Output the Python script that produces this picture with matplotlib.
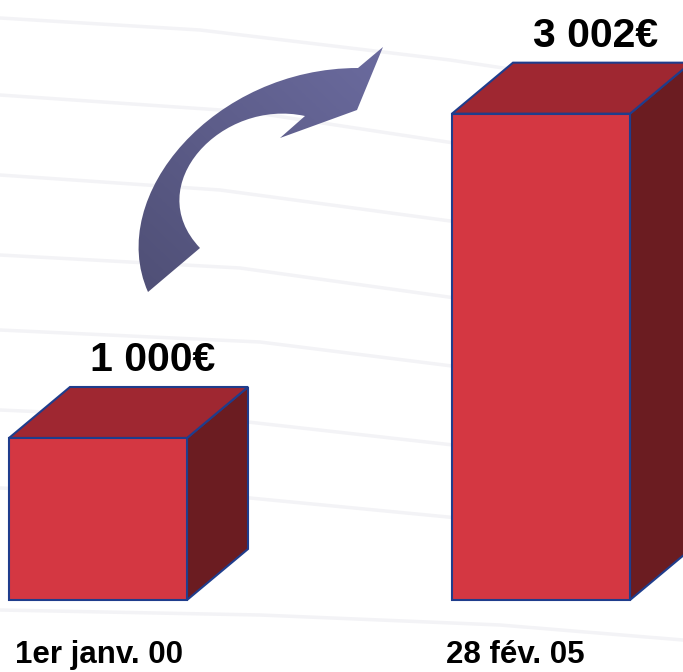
import numpy as np
import matplotlib
matplotlib.use("Agg")
import matplotlib.pyplot as plt
from matplotlib.patches import Rectangle, Polygon, PathPatch
from matplotlib.path import Path
from matplotlib.colors import LinearSegmentedColormap

# données
dates = ["1er janv. 00", "28 fév. 05"]
montants = [1000, 3002]
etiquettes = ["1 000€", "3 002€"]

# style des pavés
FACE = "#d43742"
DESSUS = "#9f2731"
COTE = "#6b1c21"
BORD = "#1f3d8c"

W, H = 683, 672
fig = plt.figure(figsize=(W / 100, H / 100), dpi=100)
fig.patch.set_facecolor("white")

# axe en pixels pour le fond et la flèche
ax_px = fig.add_axes([0, 0, 1, 1], zorder=0)
ax_px.set_xlim(0, W)
ax_px.set_ylim(H, 0)
ax_px.axis("off")

# stries grises très pâles du fond
stries = [
    ([0, 200, 450, 683], [18, 30, 60, 95]),
    ([0, 250, 500, 683], [95, 112, 150, 190]),
    ([0, 220, 480, 683], [175, 190, 225, 262]),
    ([0, 240, 470, 683], [255, 268, 300, 335]),
    ([0, 260, 500, 683], [330, 342, 372, 405]),
    ([0, 230, 480, 683], [410, 420, 448, 478]),
    ([0, 250, 500, 683], [488, 498, 522, 548]),
    ([0, 260, 500, 683], [610, 615, 625, 640]),
]
for xs, ys in stries:
    ax_px.plot(xs, ys, color="#f3f3f6", lw=2.5, solid_capstyle="round", zorder=0)

# flèche courbe
verts = [
    (148, 292),
    (105, 195), (215, 68), (358, 68),
    (383, 47),
    (357, 110),
    (280, 138),
    (305, 116),
    (222, 98), (140, 185), (200, 248),
    (148, 292),
]
codes = [Path.MOVETO,
         Path.CURVE4, Path.CURVE4, Path.CURVE4,
         Path.LINETO, Path.LINETO, Path.LINETO, Path.LINETO,
         Path.CURVE4, Path.CURVE4, Path.CURVE4,
         Path.CLOSEPOLY]
fleche = PathPatch(Path(verts, codes), facecolor="none", edgecolor="none")
ax_px.add_patch(fleche)
gx, gy = np.meshgrid(np.linspace(0, 1, 200), np.linspace(0, 1, 200))
degrade = gx * 0.5 + (1 - gy) * 0.5
cmap = LinearSegmentedColormap.from_list("fl", ["#4e4e74", "#6c6ca0"])
img = ax_px.imshow(degrade, cmap=cmap, extent=[120, 395, 300, 40],
                   origin="upper", aspect="auto", zorder=2)
img.set_clip_path(fleche)

# axe en euros pour les pavés
px_par_euro = 0.162
y_base = 600
ax = fig.add_axes([0, 0, 1, 1], zorder=1)
ax.patch.set_visible(False)
ax.set_xlim(0, W)
ax.set_ylim(-(H - y_base) / px_par_euro, y_base / px_par_euro)
ax.axis("off")

largeur = 178
ecart = 443
dx = 61
dy = 51 / px_par_euro
label_x = [99, 515]

for i, (v, lab, d) in enumerate(zip(montants, etiquettes, dates)):
    x0 = 9 + ecart * i
    face = Rectangle((x0, 0), largeur, v, facecolor=FACE, edgecolor=BORD,
                     lw=1.5, zorder=3)
    dessus = Polygon([(x0, v), (x0 + dx, v + dy), (x0 + largeur + dx, v + dy),
                      (x0 + largeur, v)], closed=True, facecolor=DESSUS,
                     edgecolor=BORD, lw=1.5, zorder=2)
    cote = Polygon([(x0 + largeur, 0), (x0 + largeur + dx, dy),
                    (x0 + largeur + dx, v + dy), (x0 + largeur, v)], closed=True,
                   facecolor=COTE, edgecolor=BORD, lw=1.5, zorder=2)
    for p in (cote, dessus, face):
        ax.add_patch(p)
    ax.text(x0 + largeur / 2 + dx - 6, v + dy + 16 / px_par_euro, lab,
            ha="center", va="baseline", fontsize=29.5, fontweight="bold",
            family=["Liberation Sans", "DejaVu Sans"], color="black", zorder=5)
    ax.text(label_x[i], -(663 - y_base) / px_par_euro, d,
            ha="center", va="baseline", fontsize=22.5, fontweight="bold",
            family=["Liberation Sans", "DejaVu Sans"], color="black", zorder=5)

fig.savefig("out.png", dpi=100)
